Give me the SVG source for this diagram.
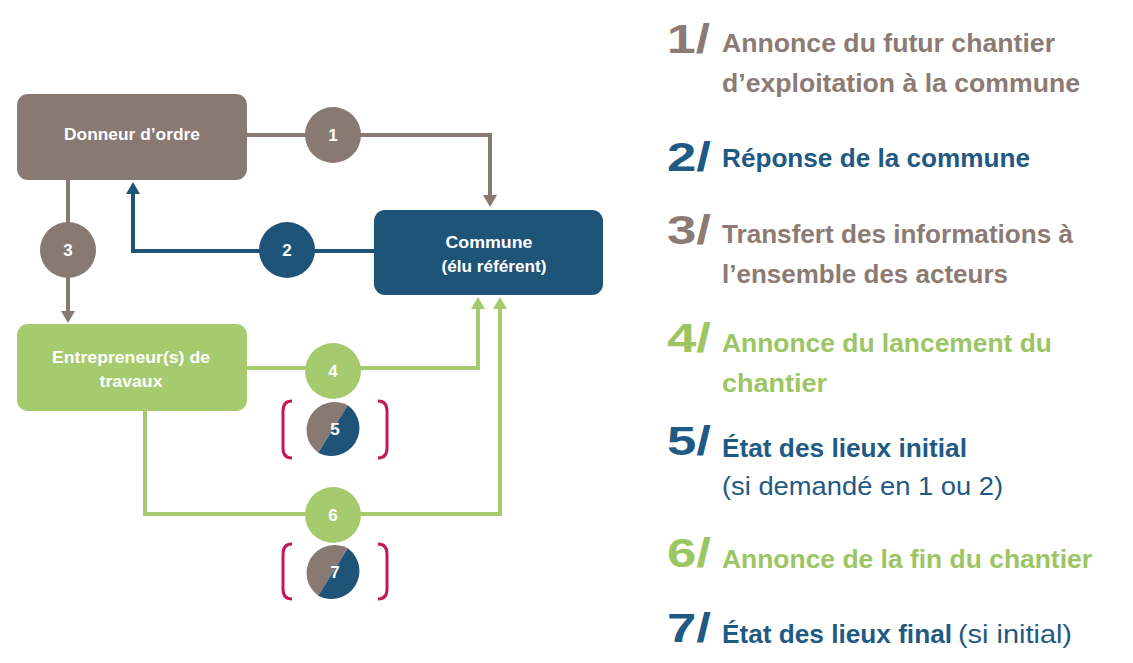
<svg xmlns="http://www.w3.org/2000/svg" width="1133" height="663" viewBox="0 0 1133 663">
<style>
.brown{fill:#887a73}
.blue{fill:#1f5479}
.green{fill:#a6cb6e}
.nt{font-family:"Liberation Sans",Arial,sans-serif;font-weight:bold;font-size:16.5px;fill:#fff;text-anchor:middle}
.cn{font-family:"Liberation Sans",Arial,sans-serif;font-weight:bold;font-size:17px;fill:#fff;text-anchor:middle}
.ln{fill:none;stroke-width:4}
.br{fill:none;stroke:#c4185a;stroke-width:3}
.num{font-family:"Liberation Sans",Arial,sans-serif;font-weight:bold;font-size:41px}
.lt{font-family:"Liberation Sans",Arial,sans-serif;font-weight:bold;font-size:25px}
.lr{font-family:"Liberation Sans",Arial,sans-serif;font-weight:normal;font-size:25px}
.tb{fill:#8b7b74}.tu{fill:#1f5a84}.tg{fill:#9cc563}
</style>
<defs>
<marker id="ab" markerUnits="userSpaceOnUse" markerWidth="14" markerHeight="14" refX="0" refY="7" orient="auto"><path d="M0,0 L12,7 L0,14 z" fill="#887a73"/></marker>
<marker id="au" markerUnits="userSpaceOnUse" markerWidth="14" markerHeight="14" refX="0" refY="7" orient="auto"><path d="M0,0 L12,7 L0,14 z" fill="#1f5479"/></marker>
<marker id="ag" markerUnits="userSpaceOnUse" markerWidth="14" markerHeight="14" refX="0" refY="7" orient="auto"><path d="M0,0 L12,7 L0,14 z" fill="#a6cb6e"/></marker>
</defs>
<rect width="1133" height="663" fill="#fff"/>
<g id="connectors">
<path class="ln" stroke="#887a73" d="M247,135 H490 V195" marker-end="url(#ab)"/>
<path class="ln" stroke="#1f5479" d="M374,251 H133 V194" marker-end="url(#au)"/>
<path class="ln" stroke="#887a73" d="M68,180 V311" marker-end="url(#ab)"/>
<path class="ln" stroke="#a6cb6e" d="M247,368 H478 V309" marker-end="url(#ag)"/>
<path class="ln" stroke="#a6cb6e" d="M145,411 V514 H500 V309" marker-end="url(#ag)"/>
</g>
<g id="donneur">
<rect class="brown" x="17" y="94" width="230" height="86" rx="11"/>
<text class="nt" x="132" y="140" textLength="136" lengthAdjust="spacingAndGlyphs">Donneur d’ordre</text>
</g>
<g id="commune">
<rect class="blue" x="374" y="210" width="229" height="85" rx="11"/>
<text class="nt" x="489" y="248" textLength="87" lengthAdjust="spacingAndGlyphs">Commune</text>
<text class="nt" x="494" y="272" textLength="105" lengthAdjust="spacingAndGlyphs">(élu référent)</text>
</g>
<g id="entrepreneur">
<rect class="green" x="17" y="324" width="230" height="87" rx="11"/>
<text class="nt" x="131" y="363" textLength="158" lengthAdjust="spacingAndGlyphs">Entrepreneur(s) de</text>
<text class="nt" x="131" y="387" textLength="63" lengthAdjust="spacingAndGlyphs">travaux</text>
</g>
<g id="step1"><circle class="brown" cx="333" cy="135" r="28"/><text class="cn" x="333" y="141">1</text></g>
<g id="step2"><circle class="blue" cx="287" cy="250" r="28"/><text class="cn" x="287" y="256">2</text></g>
<g id="step3"><circle class="brown" cx="68" cy="250" r="28"/><text class="cn" x="68" y="256">3</text></g>
<g id="step4"><circle class="green" cx="333" cy="371" r="28"/><text class="cn" x="333" y="377">4</text></g>
<g id="step5">
<path class="brown" d="M347.8,405.3 A28,28 0 0,0 318.2,452.7 Z"/>
<path class="blue" d="M347.8,405.3 A28,28 0 0,1 318.2,452.7 Z"/>
<text class="cn" x="335" y="435">5</text>
<path class="br" d="M292,401 Q283,401 283,411 L283,448 Q283,458 292,458"/>
<path class="br" d="M378,401 Q387,401 387,411 L387,448 Q387,458 378,458"/>
</g>
<g id="step6"><circle class="green" cx="333" cy="515" r="28"/><text class="cn" x="333" y="521">6</text></g>
<g id="step7">
<path class="brown" d="M347.8,548.3 A28,28 0 0,0 318.2,595.7 Z"/>
<path class="blue" d="M347.8,548.3 A28,28 0 0,1 318.2,595.7 Z"/>
<text class="cn" x="335" y="578">7</text>
<path class="br" d="M292,544 Q283,544 283,554 L283,589 Q283,599 292,599"/>
<path class="br" d="M378,544 Q387,544 387,554 L387,589 Q387,599 378,599"/>
</g>
<g id="legend">
<text class="num tb" x="667" y="53" textLength="43" lengthAdjust="spacingAndGlyphs">1/</text>
<text class="lt tb" x="722" y="52" textLength="333" lengthAdjust="spacingAndGlyphs">Annonce du futur chantier</text>
<text class="lt tb" x="722" y="92" textLength="358" lengthAdjust="spacingAndGlyphs">d’exploitation à la commune</text>
<text class="num tu" x="667" y="171" textLength="44" lengthAdjust="spacingAndGlyphs">2/</text>
<text class="lt tu" x="722" y="167" textLength="308" lengthAdjust="spacingAndGlyphs">Réponse de la commune</text>
<text class="num tb" x="667" y="244" textLength="44" lengthAdjust="spacingAndGlyphs">3/</text>
<text class="lt tb" x="722" y="243" textLength="351" lengthAdjust="spacingAndGlyphs">Transfert des informations à</text>
<text class="lt tb" x="722" y="283" textLength="286" lengthAdjust="spacingAndGlyphs">l’ensemble des acteurs</text>
<text class="num tg" x="667" y="352" textLength="44" lengthAdjust="spacingAndGlyphs">4/</text>
<text class="lt tg" x="722" y="352" textLength="330" lengthAdjust="spacingAndGlyphs">Annonce du lancement du</text>
<text class="lt tg" x="722" y="392" textLength="105" lengthAdjust="spacingAndGlyphs">chantier</text>
<text class="num tu" x="667" y="455" textLength="44" lengthAdjust="spacingAndGlyphs">5/</text>
<text class="lt tu" x="722" y="457" textLength="245" lengthAdjust="spacingAndGlyphs">État des lieux initial</text>
<text class="lr tu" x="722" y="495" textLength="281" lengthAdjust="spacingAndGlyphs">(si demandé en 1 ou 2)</text>
<text class="num tg" x="667" y="567" textLength="44" lengthAdjust="spacingAndGlyphs">6/</text>
<text class="lt tg" x="722" y="568" textLength="370" lengthAdjust="spacingAndGlyphs">Annonce de la fin du chantier</text>
<text class="num tu" x="667" y="642" textLength="44" lengthAdjust="spacingAndGlyphs">7/</text>
<text class="lt tu" x="722" y="643" textLength="230" lengthAdjust="spacingAndGlyphs">État des lieux final</text>
<text class="lr tu" x="958" y="643" textLength="114" lengthAdjust="spacingAndGlyphs">(si initial)</text>
</g>
</svg>
